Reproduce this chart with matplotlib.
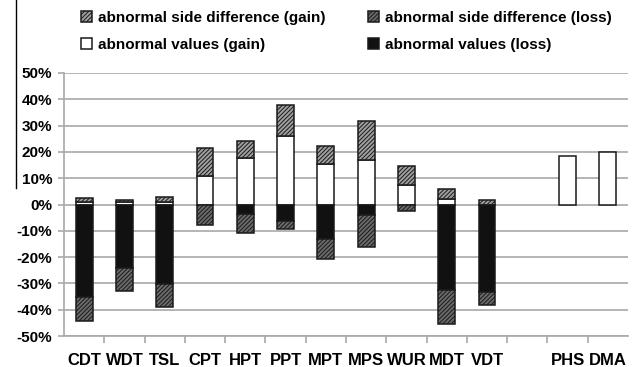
import numpy as np
import matplotlib.pyplot as plt
from matplotlib.lines import Line2D

plt.rcParams['font.family'] = ['Liberation Sans', 'DejaVu Sans']
plt.rcParams['font.weight'] = 'bold'
plt.rcParams['hatch.linewidth'] = 0.7

# categories (blank slot between VDT and PHS)
categories = ['CDT', 'WDT', 'TSL', 'CPT', 'HPT', 'PPT', 'MPT', 'MPS', 'WUR', 'MDT', 'VDT', '', 'PHS', 'DMA']

# segment heights in percent
values_gain = [1.0, 0.8, 1.0, 10.8, 17.7, 26.1, 15.5, 16.9, 7.4, 2.2, 0, 0, 18.4, 19.8]
side_gain = [1.3, 1.0, 1.8, 10.5, 6.5, 11.7, 6.8, 14.8, 7.2, 3.8, 1.9, 0, 0, 0]
values_loss = [35.2, 24.2, 30.2, 0, 3.8, 6.4, 13.1, 4.1, 0, 32.4, 33.1, 0, 0, 0]
side_loss = [9.0, 8.5, 8.8, 7.9, 7.0, 3.1, 7.5, 12.1, 2.6, 13.0, 5.3, 0, 0, 0]

x = np.arange(len(categories))
vg = np.array(values_gain)
sg = np.array(side_gain)
vl = np.array(values_loss)
sl = np.array(side_loss)

fig = plt.figure(figsize=(6.38, 3.67), dpi=100)
ax = fig.add_axes([64 / 638, 31 / 367, 564 / 638, 263 / 367])

w = 0.42
edge = '#1a1a1a'
lw = 1.1

def draw(heights, bottoms, **kw):
    m = heights != 0
    return ax.bar(x[m], heights[m], w, bottom=bottoms[m], edgecolor=edge,
                  linewidth=lw, zorder=3, **kw)

b_vg = draw(vg, np.zeros_like(vg), color='white')
b_sg = draw(sg, vg, color='#a0a0a0', hatch='////////')
b_vl = draw(-vl, np.zeros_like(vl), color='#111111')
b_sl = draw(-sl, -vl, color='#6a6a6a', hatch='////////')

ax.set_xlim(-0.5, len(categories) - 0.5)
ax.set_ylim(-50, 50)
ax.set_yticks(np.arange(-50, 51, 10))
ax.set_yticklabels([f'{t}%' for t in range(-50, 51, 10)], fontsize=11, fontweight='bold')
ax.yaxis.grid(True, color='#a8a8a8', linewidth=1.2, zorder=0)
ax.set_axisbelow(True)

ax.set_xticks(x)
ax.set_xticklabels(categories, fontsize=12, fontweight='bold')
ax.set_xticks(np.arange(0.5, len(categories) - 0.5, 1), minor=True)
ax.tick_params(axis='x', which='major', length=0, pad=12)
ax.tick_params(axis='x', which='minor', length=5, color='#a8a8a8', width=1.2)
ax.tick_params(axis='y', length=4.5, color='#a8a8a8', width=1.2, pad=4)

for s in ['top', 'right']:
    ax.spines[s].set_visible(False)
for s in ['left', 'bottom']:
    ax.spines[s].set_color('#a8a8a8')
    ax.spines[s].set_linewidth(1.2)

handles = [b_sg, b_vg, b_sl, b_vl]
labels = ['abnormal side difference (gain)', 'abnormal values (gain)',
          'abnormal side difference (loss)', 'abnormal values (loss)']
fig.legend(handles, labels, ncol=2, loc='upper left', bbox_to_anchor=(81 / 638, 1 - 11 / 367),
           frameon=False, prop={'size': 11, 'weight': 'bold'},
           borderpad=0, borderaxespad=0,
           handlelength=0.7, handleheight=0.7, handletextpad=0.4,
           columnspacing=2.8, labelspacing=0.85)

# stray vertical line at top left of the original image
fig.add_artist(Line2D([16 / 638, 16 / 638], [1.0, 1 - 188 / 367], color='black', linewidth=1))

fig.savefig('out.png', dpi=100)
